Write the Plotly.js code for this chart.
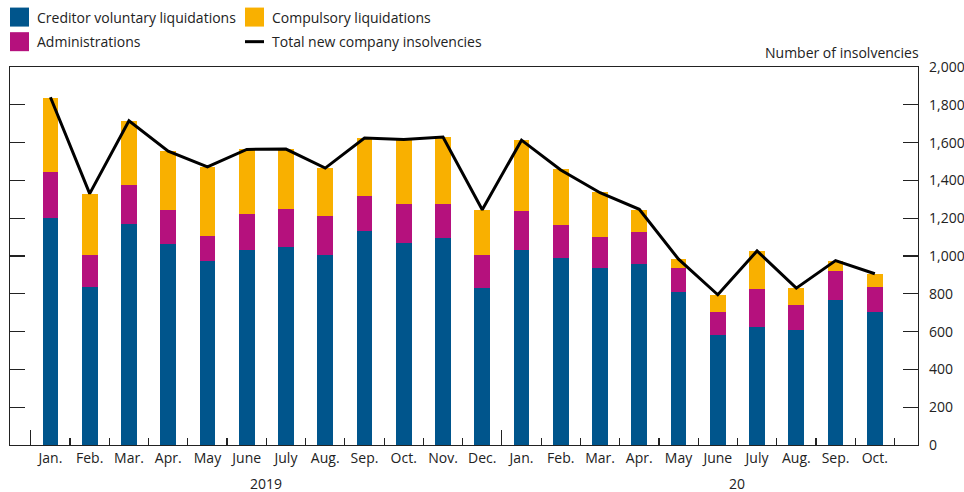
<!DOCTYPE html>
<html>
<head>
<meta charset="utf-8">
<script src="https://cdn.plot.ly/plotly-3.0.1.min.js"></script>
<style>
html,body{margin:0;padding:0;background:#fff;}
#chart{width:964px;height:492px;}
#chart .infolayer g.traces path.legendundefined{d:path('M9.5,9.5H-9.5V-9.5H9.5Z');transform:translate(22.5px,0px);stroke-width:0 !important;}
#chart .infolayer g.traces path.js-line{d:path('M13,0h19');}
</style>
</head>
<body>
<div id="chart"></div>
<script>
var months = ['Jan.','Feb.','Mar.','Apr.','May','June','July','Aug.','Sep.','Oct.','Nov.','Dec.',
              'Jan.','Feb.','Mar.','Apr.','May','June','July','Aug.','Sep.','Oct.'];
var years = ['2019','20'];
var creditorVoluntary = [1203,835,1168,1062,976,1031,1048,1003,1131,1069,1096,830,1031,989,939,957,807,580,623,608,769,703];
var administrations   = [243,168,209,180,132,192,201,211,188,206,178,174,209,175,164,172,132,125,205,131,151,132];
var compulsory        = [390,327,336,313,364,341,317,251,303,342,355,241,373,294,234,116,44,90,196,91,56,71];
var totalNew          = [1840,1330,1715,1555,1472,1564,1566,1465,1624,1617,1629,1245,1613,1455,1335,1247,983,795,1027,830,976,906];
var yTicks = [0,200,400,600,800,1000,1200,1400,1600,1800,2000];

var idx = months.map(function(_, i){ return i; });
var bounds = [-0.5].concat(idx.map(function(i){ return i + 0.5; }));
var yearBounds = [-0.5, 11.5];
var yearCenters = [5.5, 17.5];

var FONT = 'Open Sans, Noto Sans, sans-serif';
var colors = {blue:'#00558C', magenta:'#B5117D', yellow:'#F9B000'};

var traces = [
  {type:'bar', name:'Creditor voluntary liquidations', x:idx, y:creditorVoluntary, marker:{color:colors.blue}, width:0.4, legend:'legend', legendrank:1},
  {type:'bar', name:'Administrations', x:idx, y:administrations, marker:{color:colors.magenta}, width:0.4, legend:'legend2', legendrank:1},
  {type:'bar', name:'Compulsory liquidations', x:idx, y:compulsory, marker:{color:colors.yellow}, width:0.4, legend:'legend', legendrank:2},
  {type:'scatter', mode:'lines', name:'Total new company insolvencies', x:idx, y:totalNew, line:{color:'#000', width:3}, legend:'legend2', legendrank:2}
];

var legendCommon = {orientation:'h', xanchor:'left', xref:'paper', yref:'container', yanchor:'top',
  entrywidth:190, entrywidthmode:'pixels', font:{size:14, color:'#222'}, traceorder:'normal', itemwidth:30, bgcolor:'rgba(0,0,0,0)'};

var layout = {
  width:964, height:492,
  margin:{l:10, r:46, t:67, b:47, autoexpand:false},
  paper_bgcolor:'#fff', plot_bgcolor:'#fff',
  font:{family:FONT, size:14, color:'#222'},
  barmode:'stack',
  showlegend:true,
  legend:Object.assign({}, legendCommon, {x:-0.0143, y:0.997}),
  legend2:Object.assign({}, legendCommon, {x:-0.0143, y:0.947}),
  xaxis:{range:[-1.03, 22.1], tickmode:'array', tickvals:idx, ticktext:months, ticks:'', showgrid:false, zeroline:false,
         showline:true, linecolor:'#222', linewidth:1.3, mirror:true, tickfont:{size:14, color:'#222'}, fixedrange:true},
  xaxis2:{overlaying:'x', matches:'x', side:'bottom', anchor:'y', tickmode:'array', tickvals:bounds, ticks:'inside', ticklen:7,
          tickcolor:'#222', tickwidth:1.2, showticklabels:false, showgrid:false, zeroline:false, showline:false},
  xaxis3:{overlaying:'x', matches:'x', side:'bottom', anchor:'y', tickmode:'array', tickvals:yearBounds, ticks:'inside', ticklen:15,
          tickcolor:'#222', tickwidth:1.2, showticklabels:false, showgrid:false, zeroline:false, showline:false},
  yaxis:{range:[0,2000], side:'right', tickmode:'array', tickvals:yTicks, tickformat:',', ticks:'inside', ticklen:15,
         tickcolor:'#222', tickwidth:1.2, showline:true, linecolor:'#222', linewidth:1.3, mirror:'ticks', showgrid:false,
         zeroline:false, tickfont:{size:14, color:'#222'}, ticklabelstandoff:7},
  annotations:[
    {xref:'paper', yref:'paper', x:1, y:1, yshift:3, xshift:3, xanchor:'right', yanchor:'bottom', text:'Number of insolvencies', showarrow:false, font:{size:14, color:'#222'}},
    {xref:'x', yref:'paper', x:yearCenters[0], y:0, yshift:-38, xanchor:'center', yanchor:'middle', text:years[0], showarrow:false, font:{size:14, color:'#222'}},
    {xref:'x', yref:'paper', x:yearCenters[1], y:0, yshift:-38, xanchor:'center', yanchor:'middle', text:years[1], showarrow:false, font:{size:14, color:'#222'}}
  ]
};

// invisible traces to activate the overlay tick axes
traces.push({type:'scatter', x:[0], y:[0], xaxis:'x2', yaxis:'y', mode:'markers', marker:{opacity:0}, showlegend:false, hoverinfo:'skip'});
traces.push({type:'scatter', x:[0], y:[0], xaxis:'x3', yaxis:'y', mode:'markers', marker:{opacity:0}, showlegend:false, hoverinfo:'skip'});

var gdEl = document.getElementById('chart');
var observer = null;
function unclip(){
  if (observer) observer.disconnect();
  gdEl.querySelectorAll('.infolayer [clip-path]').forEach(function(el){ el.removeAttribute('clip-path'); });
  if (observer) observer.observe(gdEl, {childList:true, subtree:true});
}
observer = new MutationObserver(unclip);

Plotly.newPlot(gdEl, traces, layout, {displayModeBar:false, staticPlot:true}).then(function(gd){
  unclip();
  observer.observe(gdEl, {childList:true, subtree:true});
  gd.on('plotly_afterplot', unclip);
});
</script>
</body>
</html>
